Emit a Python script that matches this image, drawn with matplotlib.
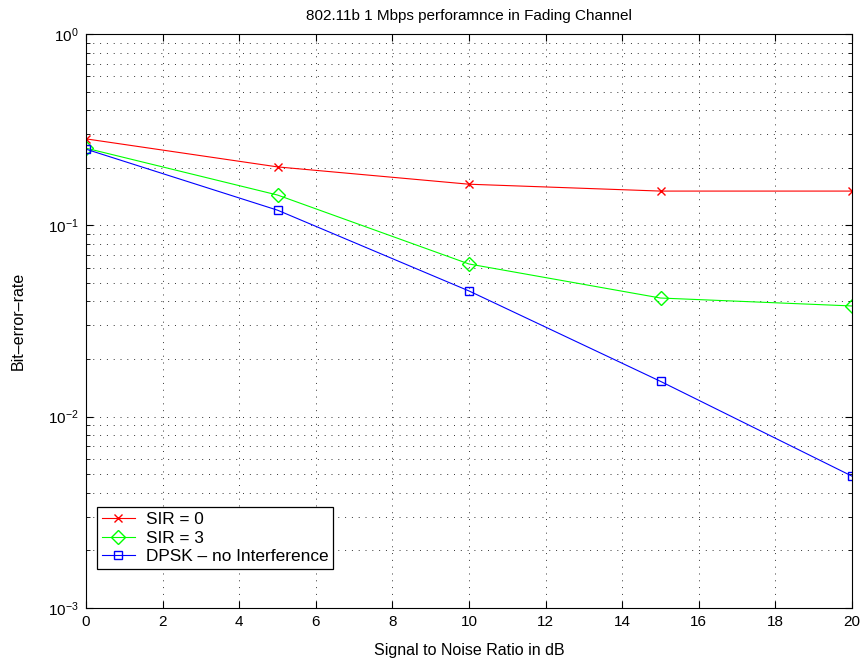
import matplotlib
matplotlib.use("Agg")
import matplotlib.pyplot as plt
from matplotlib.ticker import LogLocator, NullFormatter, MultipleLocator

plt.rcParams['font.family'] = ['Liberation Sans', 'DejaVu Sans']

snr = [0, 5, 10, 15, 20]
ber_sir0 = [0.283, 0.202, 0.164, 0.151, 0.151]
ber_sir3 = [0.253, 0.144, 0.0628, 0.0417, 0.0379]
ber_dpsk = [0.250, 0.120, 0.0454, 0.0153, 0.00489]
labels = ['SIR = 0', 'SIR = 3', 'DPSK \u2013 no Interference']

fig = plt.figure(figsize=(8.62, 6.66), dpi=100)
ax = fig.add_axes([0.0998, 0.087, 0.8886, 0.862])

ax.semilogy(snr, ber_sir0, color='#ff0000', marker='x', markersize=6, lw=0.8,
            markerfacecolor='none', label=labels[0])
ax.semilogy(snr, ber_sir3, color='#00ff00', marker='D', markersize=7, lw=0.8,
            markerfacecolor='none', label=labels[1])
ax.semilogy(snr, ber_dpsk, color='#0000ff', marker='s', markersize=6, lw=0.8,
            markerfacecolor='none', label=labels[2])

ax.set_xlim(0, 20)
ax.set_ylim(1e-3, 1)
ax.xaxis.set_major_locator(MultipleLocator(2))
ax.yaxis.set_major_locator(LogLocator(base=10, numticks=10))
ax.yaxis.set_minor_locator(LogLocator(base=10, subs=range(2, 10), numticks=20))
ax.yaxis.set_minor_formatter(NullFormatter())

ax.grid(True, which='major', linestyle=(0, (1, 6)), color='#333333', lw=0.7)
ax.grid(True, which='minor', axis='y', linestyle=(0, (1, 6)), color='#333333', lw=0.7)
ax.tick_params(direction='in', which='both', top=True, right=True, labelsize=11)
ax.tick_params(which='major', length=5, pad=5)
ax.tick_params(which='minor', length=3)
for s in ax.spines.values():
    s.set_linewidth(0.8)

ax.set_xlabel('Signal to Noise Ratio in dB', fontsize=11.5, labelpad=10)
ax.set_ylabel('Bit\u2013error\u2013rate', fontsize=11.5, labelpad=16)
ax.set_title('802.11b 1 Mbps perforamnce in Fading Channel', fontsize=11, pad=10)

leg = ax.legend(loc='lower left', bbox_to_anchor=(0.0144, 0.068), fancybox=False,
                edgecolor='black', framealpha=1, fontsize=12.4, borderaxespad=0,
                handlelength=1.9, handletextpad=0.65, labelspacing=0.2, borderpad=0.28)
leg.get_frame().set_linewidth(0.9)

fig.savefig('out.png', dpi=100)
